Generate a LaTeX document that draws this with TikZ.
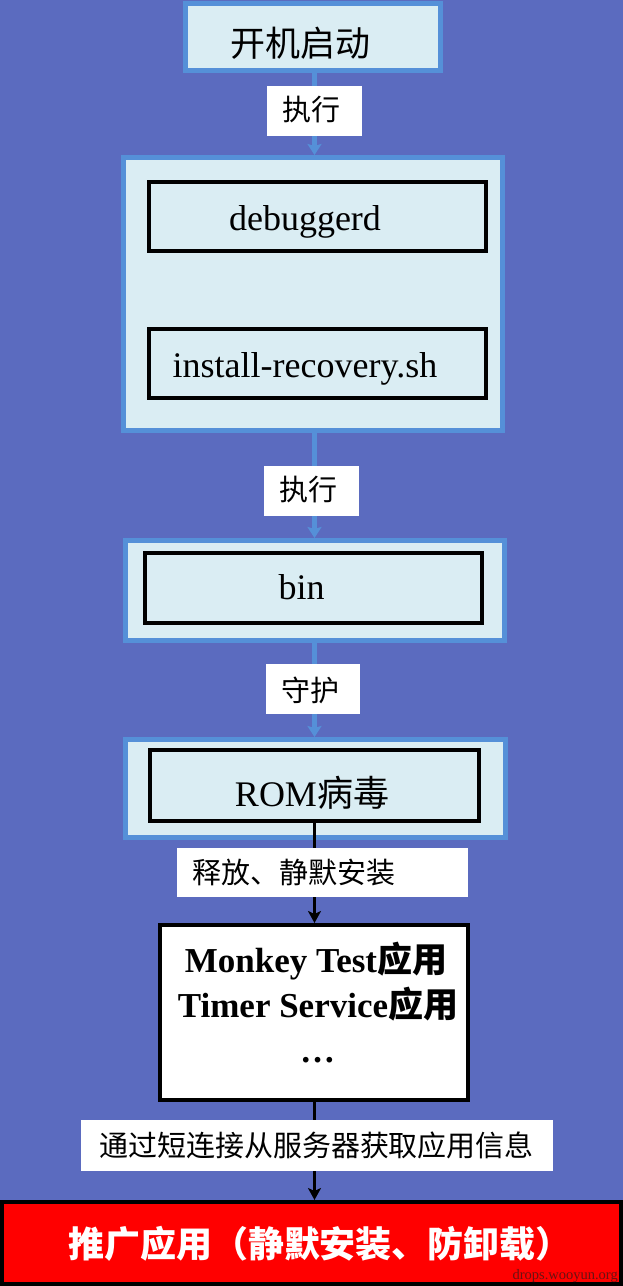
\documentclass[tikz,border=0pt]{standalone}
\usepackage{fontspec}
\setmainfont{Liberation Serif}
\newfontfamily\cjk{Noto Sans CJK SC}
\usetikzlibrary{arrows.meta}
\definecolor{bgblue}{HTML}{5B6BBF}
\definecolor{lbfill}{HTML}{DAEDF3}
\definecolor{lbline}{HTML}{5590D8}
\definecolor{wmark}{HTML}{6B1212}
\begin{document}
\begin{tikzpicture}[x=1pt,y=-1pt,
  outerbox/.style={rectangle,draw=lbline,line width=5pt,fill=lbfill,inner sep=0pt},
  innerbox/.style={rectangle,draw=black,line width=4pt,fill=lbfill,inner sep=0pt},
  whitebox/.style={rectangle,draw=black,line width=4pt,fill=white,inner sep=0pt},
  redbox/.style={rectangle,draw=black,line width=4pt,fill=red,inner sep=0pt},
  lbl/.style={rectangle,fill=white,inner sep=0pt},
  bigtxt/.style={inner sep=0pt,font=\fontsize{36}{40}\selectfont},
  lbltxt/.style={inner sep=0pt,font=\cjk\fontsize{29}{32}\selectfont},
  lbarrow/.style={draw=lbline,line width=4.5pt,-{Stealth[length=11pt,width=14pt,inset=2pt]}},
  bkarrow/.style={draw=black,line width=3.5pt,-{Stealth[length=12pt,width=13pt,inset=3pt]}}]
\useasboundingbox (0,0) rectangle (623,1286);
\fill[bgblue] (0,0) rectangle (623,1286);
\coordinate (ax) at (314.5,0);
% boxes
\node[outerbox,minimum width=255pt,minimum height=67pt] (start) at (313,37) {};
\node[outerbox,minimum width=379pt,minimum height=273pt] (grp) at (313,294) {};
\node[innerbox,minimum width=337pt,minimum height=69pt] (dbg) at (317.5,216.5) {};
\node[innerbox,minimum width=337pt,minimum height=69pt] (inst) at (317.5,363.5) {};
\node[outerbox,minimum width=379pt,minimum height=100pt] (binout) at (315,590.5) {};
\node[innerbox,minimum width=337pt,minimum height=70pt] (bin) at (313.5,588) {};
\node[outerbox,minimum width=380pt,minimum height=98pt] (romout) at (315.5,788.5) {};
\node[innerbox,minimum width=329pt,minimum height=71pt] (rom) at (314.5,785.5) {};
\node[whitebox,minimum width=308pt,minimum height=175pt] (apps) at (314,1012.5) {};
\node[redbox,minimum width=619pt,minimum height=82pt] (push) at (311.5,1243) {};
% connectors
\draw[lbarrow] (start.south -| ax) -- (grp.north -| ax);
\draw[lbarrow] (grp.south -| ax) -- (binout.north -| ax);
\draw[lbarrow] (binout.south -| ax) -- (romout.north -| ax);
\draw[bkarrow] (rom.south -| ax) -- (apps.north -| ax);
\draw[bkarrow] (apps.south -| ax) -- (push.north -| ax);
% labels
\node[lbl,minimum width=95pt,minimum height=50pt] (l1) at (314.5,111) {};
\node[lbl,minimum width=95pt,minimum height=50pt] (l2) at (311.5,491) {};
\node[lbl,minimum width=94pt,minimum height=50pt] (l3) at (313,689) {};
\node[lbl,minimum width=291pt,minimum height=49pt] (l4) at (322.5,872.5) {};
\node[lbl,minimum width=472pt,minimum height=51pt] (l5) at (317,1145.5) {};
% texts
\node[bigtxt,font=\cjk\fontsize{35}{40}\selectfont] (tstart) at (300.5,43.5) {开机启动};
\node[bigtxt,anchor=base] (tdbg) at (305,230) {debuggerd};
\node[bigtxt,anchor=base] (tinst) at (305,377) {install-recovery.sh};
\node[bigtxt,anchor=base] (tbin) at (301.5,599) {bin};
\node[bigtxt,anchor=base] (trom) at (312,806) {ROM{\cjk 病毒}};
\node[lbltxt] (tl1) at (311,110) {执行};
\node[lbltxt] (tl2) at (308,490) {执行};
\node[lbltxt] (tl3) at (310,690) {守护};
\node[lbltxt,anchor=west] (tl4) at (192,872.5) {释放、静默安装};
\node[lbltxt] (tl5) at (316.5,1145) {通过短连接从服务器获取应用信息};
\node[bigtxt,anchor=base,font=\bfseries\fontsize{35}{40}\selectfont] (ta1) at (316,972) {Monkey Test{\cjk 应用}};
\node[bigtxt,anchor=base,font=\bfseries\fontsize{35}{40}\selectfont] (ta2) at (318,1017) {Timer Service{\cjk 应用}};
\node[bigtxt,anchor=base,font=\bfseries\fontsize{35}{40}\selectfont] (ta3) at (317.5,1062) {…};
\node[inner sep=0pt,text=white,font=\cjk\bfseries\fontsize{36}{40}\selectfont] (tpush) at (320,1244) {推广应用（静默安装、防卸载）};
\node[inner sep=0pt,anchor=base east,text=wmark,font=\fontsize{14.5}{16}\selectfont] (wm) at (618,1279) {drops.wooyun.org};
\end{tikzpicture}
\end{document}
